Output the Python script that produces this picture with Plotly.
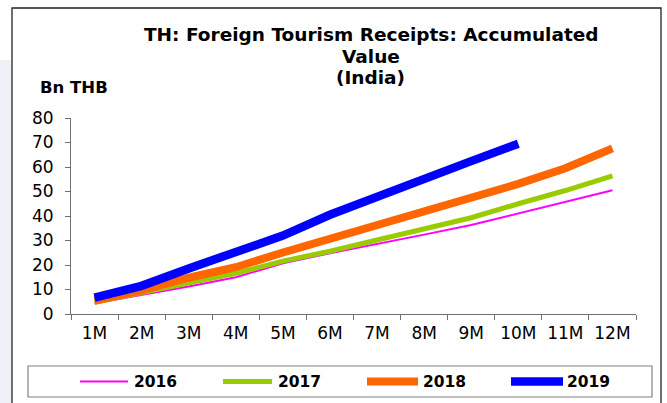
import plotly.graph_objects as go

# Cumulative foreign tourism receipts from India, billion THB
months = ["1M", "2M", "3M", "4M", "5M", "6M", "7M", "8M", "9M", "10M", "11M", "12M"]
y2016 = [4.4, 7.8, 11.2, 15.0, 20.7, 24.8, 28.5, 32.4, 36.3, 41.0, 45.8, 50.5]
y2017 = [4.8, 8.6, 12.7, 16.6, 21.6, 25.6, 30.2, 34.6, 39.3, 45.0, 50.4, 56.4]
y2018 = [5.4, 9.6, 14.8, 19.1, 25.1, 30.6, 36.0, 42.0, 47.2, 53.1, 59.5, 67.6]
y2019 = [6.7, 11.5, 18.6, 25.5, 32.0, 40.5, 48.0, 55.5, 62.4, 69.5]

series = [
    ("2016", y2016, "#FF00FF", 2),
    ("2017", y2017, "#99CC00", 5),
    ("2018", y2018, "#FF6600", 8),
    ("2019", y2019, "#0000FF", 8.5),
]

FONT = "DejaVu Sans"
W, H = 667, 403
L, R, T, B = 71, 31, 118, 89
PW, PH = W - L - R, H - T - B


def px(x):
    return (x - L) / PW


def py(y):
    return (H - B - y) / PH


fig = go.Figure()
for name, vals, color, width in series:
    fig.add_trace(go.Scatter(
        x=months[:len(vals)], y=vals, mode="lines", name=name,
        line=dict(color=color, width=width), showlegend=False,
    ))

shapes = [
    # soft tint on the left page edge
    dict(type="rect", xref="paper", yref="paper", x0=px(0), x1=px(11), y0=py(404), y1=py(60),
         fillcolor="#EEF1F8", line=dict(width=0), layer="below"),
    # outer frame
    dict(type="rect", xref="paper", yref="paper", x0=px(12), x1=px(661), y0=py(406), y1=py(8),
         line=dict(color="#222222", width=1.3)),
    # legend box
    dict(type="rect", xref="paper", yref="paper", x0=px(28), x1=px(652), y0=py(397), y1=py(366),
         line=dict(color="#808080", width=1.2)),
]
annotations = [
    dict(text="<b>TH: Foreign Tourism Receipts: Accumulated</b>", x=px(371), y=py(35)),
    dict(text="<b>Value</b>", x=px(371), y=py(56)),
    dict(text="<b>(India)</b>", x=px(370), y=py(77)),
]
for a in annotations:
    a.update(xref="paper", yref="paper", xanchor="center", yanchor="middle", showarrow=False,
             font=dict(family=FONT, size=18.5, color="black"))
annotations.append(dict(text="<b>Bn THB</b>", x=px(38), y=py(88), xref="paper", yref="paper",
                        xanchor="left", yanchor="middle", showarrow=False,
                        font=dict(family=FONT, size=16.5, color="black")))

# legend: sample line + label for each series
legend_pos = [(80, 128, 132), (223, 272, 276), (367, 418, 421), (511, 563, 565)]
ly = 381.5
for (name, vals, color, width), (x0, x1, tx) in zip(series, legend_pos):
    shapes.append(dict(type="line", xref="paper", yref="paper", x0=px(x0), x1=px(x1),
                       y0=py(ly), y1=py(ly), line=dict(color=color, width=width)))
    annotations.append(dict(text=f"<b>{name}</b>", x=px(tx), y=py(ly), xref="paper", yref="paper",
                            xanchor="left", yanchor="middle", showarrow=False,
                            font=dict(family=FONT, size=15.5, color="black")))

fig.update_layout(
    width=W, height=H,
    margin=dict(l=L, r=R, t=T, b=B),
    paper_bgcolor="white", plot_bgcolor="white",
    showlegend=False,
    shapes=shapes, annotations=annotations,
    font=dict(family=FONT, size=17, color="black"),
)
fig.update_xaxes(
    type="category", categoryorder="array", categoryarray=months,
    range=[-0.5, 11.5], showgrid=False, zeroline=False,
    showline=True, linecolor="#707070", linewidth=1,
    ticks="outside", tickson="boundaries", ticklen=5, tickcolor="#707070",
    ticklabelstandoff=4,
    tickfont=dict(family=FONT, size=17, color="black"),
)
fig.update_yaxes(
    range=[0, 80], dtick=10, showgrid=False, zeroline=False,
    showline=True, linecolor="#707070", linewidth=1,
    ticks="outside", ticklen=5, tickcolor="#707070",
    ticklabelstandoff=8,
    tickfont=dict(family=FONT, size=17, color="black"),
)

fig.write_html("out.html")
